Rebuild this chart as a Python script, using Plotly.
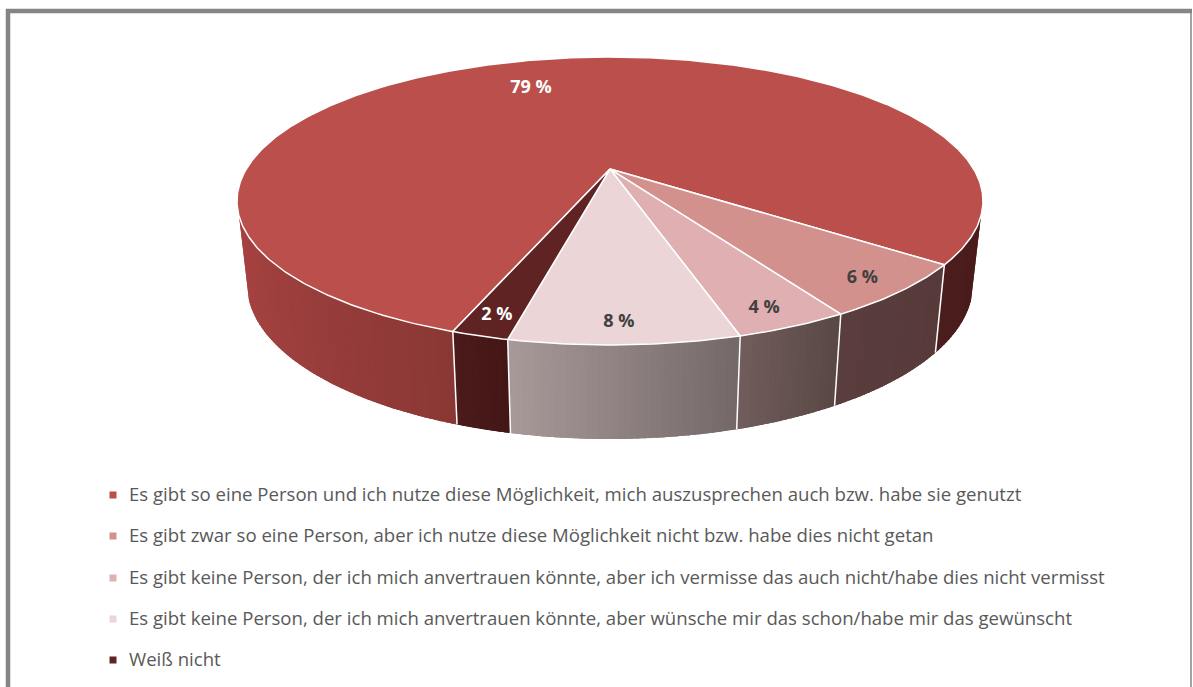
import numpy as np
import plotly.graph_objects as go

# ---- data ----
categories = [
    "Es gibt so eine Person und ich nutze diese Möglichkeit, mich auszusprechen auch bzw. habe sie genutzt",
    "Es gibt zwar so eine Person, aber ich nutze diese Möglichkeit nicht bzw. habe dies nicht getan",
    "Es gibt keine Person, der ich mich anvertrauen könnte, aber ich vermisse das auch nicht/habe dies nicht vermisst",
    "Es gibt keine Person, der ich mich anvertrauen könnte, aber wünsche mir das schon/habe mir das gewünscht",
    "Weiß nicht",
]
values = [79, 6, 4, 8, 2]
labels = ["79 %", "6 %", "4 %", "8 %", "2 %"]

# ---- styles ----
top_colors = ["#BA4F4C", "#D3918E", "#E0AFB1", "#EBD5D6", "#5E2322"]
label_colors = ["#FFFFFF", "#404040", "#404040", "#404040", "#FFFFFF"]
label_radius = [0.735, 0.894, 0.894, 0.89, 0.894]
label_turn = [3.6, -0.5, -0.85, -0.55, 0.0]  # degrees off the slice's middle
LABEL_DROP = 1.5
FONT = "Open Sans"

# projected geometry of the tilted disc
CX = 610
TOP = dict(cy=201, a=373, b=144)
BOT = dict(cy=284, a=363, b=155)
K = -0.222
S = np.sqrt(1 - K * K)
START = np.radians(-20)
EDGE = np.radians(84)

# legend rows
LEG_MARK_X, LEG_TEXT_X = 113, 129
LEG_ROWS = [495, 536, 578, 619, 660]
LEG_TEXT_DROP = 1


def to_unit(theta, r=1.0):
    x, y = r * np.sin(theta), r * np.cos(theta)
    d = 1 + K * y
    return x * S / d, (y + K) / d


def on(e, ux, uy):
    return CX + e["a"] * ux, e["cy"] + e["b"] * uy


def rim(e, t):
    return on(e, np.sin(t), np.cos(t))


def lerp(c1, c2, f):
    a = [int(c1[i:i + 2], 16) for i in (1, 3, 5)]
    b = [int(c2[i:i + 2], 16) for i in (1, 3, 5)]
    return "rgb(%d,%d,%d)" % tuple(round(p + (q - p) * f) for p, q in zip(a, b))


total = sum(values)
bounds = [START]
for v in values:
    bounds.append(bounds[-1] - v / total * 2 * np.pi)


def rim_param(theta):
    ux, uy = to_unit(theta)
    return np.arctan2(ux, uy)


fig = go.Figure()

# side wall, left to right, between slice boundaries
t_b = [rim_param(bounds[i]) for i in (0, 4, 3, 2, 1)]
segments = [
    (-EDGE, t_b[0], "#A84342", "#8A3835"),
    (t_b[0], t_b[1], "#4B1B1B", "#441616"),
    (t_b[1], t_b[2], "#A89999", "#746868"),
    (t_b[2], t_b[3], "#6F5C5B", "#5A4845"),
    (t_b[3], t_b[4], "#5A3D3D", "#573A3A"),
    (t_b[4], EDGE, "#4B1D1C", "#4A1C1B"),
]
for t0, t1, c0, c1 in segments:
    # solid underlay keeps the wall's outline smooth under the gradient strips
    arc = np.linspace(t0, t1, 60)
    tx, ty = rim(TOP, arc)
    bx, by = rim(BOT, arc[::-1])
    fig.add_trace(go.Scatter(
        x=np.r_[tx, bx], y=np.r_[ty, by], mode="lines", fill="toself",
        fillcolor=lerp(c0, c1, 0.5), line=dict(width=0),
        showlegend=False, hoverinfo="skip"))
    n = max(2, int(np.degrees(t1 - t0) / 1.0))
    edges = np.linspace(t0, t1, n + 1)
    for i in range(n):
        # each strip runs slightly under the next one so no seam shows
        hi = edges[i + 1] + (0.006 if i < n - 1 else 0)
        ts = np.array([edges[i], hi])
        tx, ty = rim(TOP, ts)
        bx, by = rim(BOT, ts[::-1])
        fig.add_trace(go.Scatter(
            x=np.r_[tx, bx], y=np.r_[ty, by], mode="lines", fill="toself",
            fillcolor=lerp(c0, c1, i / max(n - 1, 1)), line=dict(width=0),
            showlegend=False, hoverinfo="skip"))
for t in t_b:
    tx, ty = rim(TOP, np.array([t, t]))
    bx, by = rim(BOT, np.array([t, t]))
    fig.add_trace(go.Scatter(
        x=[tx[0], bx[0]], y=[ty[0], by[0]], mode="lines",
        line=dict(color="white", width=1.5), showlegend=False, hoverinfo="skip"))

# top face
for i, v in enumerate(values):
    th = np.linspace(bounds[i], bounds[i + 1], max(3, int(v * 6)))
    ux, uy = to_unit(th)
    ax, ay = on(TOP, *to_unit(0.0, 0.0))
    rx, ry = on(TOP, ux, uy)
    fig.add_trace(go.Scatter(
        x=np.r_[ax, rx, ax], y=np.r_[ay, ry, ay], mode="lines", fill="toself",
        fillcolor=top_colors[i], line=dict(color="white", width=1.5),
        showlegend=False, hoverinfo="skip"))

# data labels
for i, v in enumerate(values):
    mid = (bounds[i] + bounds[i + 1]) / 2 + np.radians(label_turn[i])
    lx, ly = on(TOP, *to_unit(mid, label_radius[i]))
    fig.add_trace(go.Scatter(
        x=[lx], y=[ly + LABEL_DROP], mode="text", text=[labels[i]],
        textfont=dict(family=FONT, size=18, color=label_colors[i], weight="bold"),
        textposition="middle center", showlegend=False, hoverinfo="skip"))

# legend rows
for i, c in enumerate(categories):
    fig.add_trace(go.Scatter(
        x=[LEG_MARK_X], y=[LEG_ROWS[i]], mode="markers", name=c,
        marker=dict(symbol="square", size=7, color=top_colors[i]),
        showlegend=False, hoverinfo="skip"))
    fig.add_trace(go.Scatter(
        x=[LEG_TEXT_X], y=[LEG_ROWS[i] + LEG_TEXT_DROP], mode="text", text=[c], name=c,
        textposition="middle right",
        textfont=dict(family=FONT, size=18.6, color="#595959"),
        showlegend=False, hoverinfo="skip"))

# frame
frame = dict(type="line", xref="x", yref="y", layer="below")
shapes = [
    dict(frame, x0=8, y0=690, x1=8, y1=9, line=dict(color="#858585", width=4.5)),
    dict(frame, x0=6, y0=11, x1=1192, y1=11, line=dict(color="#858585", width=4.5)),
    dict(frame, x0=1191, y0=9, x1=1191, y1=690, line=dict(color="#858585", width=1.5)),
]

fig.update_layout(
    width=1193, height=687, margin=dict(l=0, r=0, t=0, b=0),
    paper_bgcolor="white", plot_bgcolor="white", shapes=shapes, showlegend=False,
    xaxis=dict(range=[0, 1193], visible=False, fixedrange=True),
    yaxis=dict(range=[687, 0], visible=False, fixedrange=True),
)
fig.write_html("out.html", config=dict(displayModeBar=False),
               post_script="document.body.style.margin='0';")
